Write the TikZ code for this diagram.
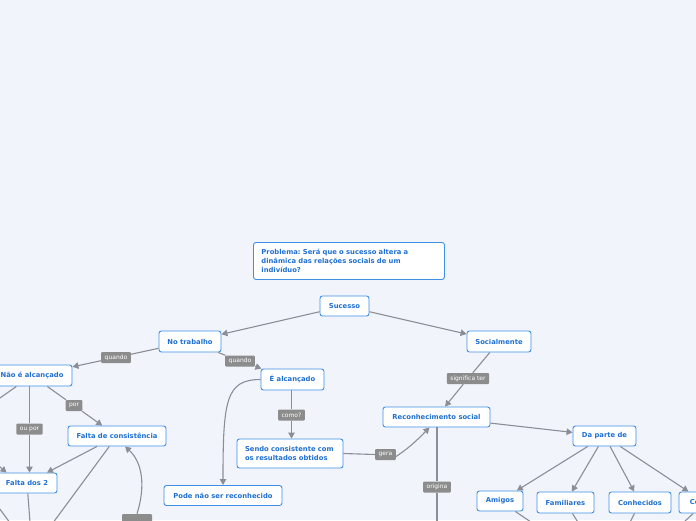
\documentclass[tikz,border=0pt]{standalone}
\usepackage{fontspec}
\usetikzlibrary{arrows.meta,calc}
\newfontfamily\dvs{DejaVu Sans}
\frenchspacing
\definecolor{bgc}{HTML}{F2F4FC}
\definecolor{nodeb}{HTML}{3F8FE6}
\definecolor{nodet}{HTML}{1F70D2}
\definecolor{labg}{HTML}{8C8C8C}
\definecolor{lineg}{HTML}{8B8E96}
\tikzset{
  concept/.style={draw=nodeb, fill=white, rounded corners=2.5pt, line width=0.9pt, text=nodet,
    font=\dvs\bfseries\fontsize{6.8}{9}\selectfont, inner sep=0pt, align=center},
  lab/.style={fill=labg, text=white, font=\dvs\fontsize{6}{7}\selectfont, inner xsep=3.5pt,
    inner ysep=0pt, minimum height=11pt, rounded corners=1pt},
  link/.style={draw=lineg, line width=1.1pt},
  conn/.style={link, -{Triangle[length=6pt,width=6.5pt]}},
}
\begin{document}
\begin{tikzpicture}[x=1pt,y=-1pt]
\useasboundingbox (0,0) rectangle (696,520);
\clip (0,0) rectangle (696,520);
\fill[bgc] (0,0) rectangle (696,520);

% nodes
\node[concept, anchor=north west, text width=175pt, align=left, inner xsep=8pt, minimum height=37pt] (prob) at (253,242)
  {\frenchspacing Problema: Será que o sucesso altera a\\dinâmica das relações sociais de um\\indivíduo?};
\node[concept, minimum width=49pt, minimum height=20pt] (suc) at (344.5,306) {Sucesso};
\node[concept, minimum width=62pt, minimum height=21pt] (notrab) at (190,341.5) {No trabalho};
\node[concept, minimum width=64pt, minimum height=21pt] (social) at (499,341.5) {Socialmente};
\node[concept, minimum width=80pt, minimum height=21pt] (naoalc) at (32,375.5) {Não é alcançado};
\node[concept, minimum width=63pt, minimum height=21pt] (ealc) at (292.5,379.5) {É alcançado};
\node[concept, text width=90pt, align=left, inner xsep=8pt, minimum height=29pt] (sendo) at (290,453.5)
  {Sendo consistente com\\os resultados obtidos};
\node[concept, minimum width=107pt, minimum height=20pt] (recon) at (436.5,417) {Reconhecimento social};
\node[concept, minimum width=63pt, minimum height=20pt] (daparte) at (604.5,436) {Da parte de};
\node[concept, minimum width=46pt, minimum height=20pt] (amigos) at (500,501) {Amigos};
\node[concept, minimum width=57pt, minimum height=21pt] (famil) at (565.5,502.5) {Familiares};
\node[concept, minimum width=62pt, minimum height=21pt] (conhec) at (640,502.5) {Conhecidos};
\node[concept, minimum width=52pt, minimum height=21pt] (coleg) at (705,502.5) {Colegas};
\node[concept, minimum width=98pt, minimum height=20pt] (faltacons) at (117,436) {Falta de consistência};
\node[concept, minimum width=60pt, minimum height=20pt] (falta2) at (27,483) {Falta dos 2};
\node[concept, minimum width=118pt, minimum height=20pt] (pode) at (223,495.5) {Pode não ser reconhecido};

% labels
\node[lab] (q1) at (116,357.5) {quando};
\node[lab] (q2) at (240,361) {quando};
\node[lab] (por) at (74,405.5) {por};
\node[lab] (oupor) at (29.5,429) {ou por};
\node[lab] (como) at (291.5,415) {como?};
\node[lab] (gera) at (385.5,454.5) {gera};
\node[lab] (sig) at (468,378.5) {significa ter};
\node[lab] (orig) at (437,487) {origina};
\node[lab, minimum width=30pt, minimum height=12pt] (lbot) at (137,520) {};

% off-frame coordinates
\coordinate (o1) at (-20,412);
\coordinate (o2) at (-20,450);
\coordinate (o3) at (31,535);
\coordinate (o4) at (44,535);
\coordinate (o5) at (-12,493);
\coordinate (o6) at (19,535);
\coordinate (o7) at (437,535);
\coordinate (o8) at (550,535);
\coordinate (o9) at (586,535);
\coordinate (o10) at (623.6,535);
\coordinate (o11) at (670,535);

% connectors
\draw[conn] (suc) -- (notrab);
\draw[conn] (suc) -- (social);
\draw[link] (notrab) -- (q1);
\draw[conn] (q1) -- (naoalc);
\draw[link] (notrab) -- (q2);
\draw[conn] (q2) -- (ealc);
\draw[link] (naoalc) -- (por);
\draw[conn] (por) -- (faltacons);
\draw[link] (naoalc.south -| oupor) -- (oupor);
\draw[conn] (oupor) -- (falta2.north -| oupor);
\draw[link] (naoalc) -- (o1);
\draw[conn] (o2) -- ([xshift=10pt]falta2.north west);
\draw[conn] (faltacons) -- (falta2);
\draw[link] (faltacons) -- (o4);
\draw[link] (falta2) -- (o3);
\draw[link] (o5) -- (o6);
\draw[conn] (lbot.north) .. controls (146,485) and (142,462) .. ([xshift=8pt]faltacons.south);
\draw[conn] (ealc.west) .. controls (226,379.5) and (223,400) .. (pode.north);
\draw[link] (ealc.south -| como) -- (como);
\draw[conn] (como) -- (sendo.north -| como);
\draw[link] (sendo.east) -- (gera.west);
\draw[conn] ([yshift=-2pt]gera.east) .. controls (412,446) and (421,436) .. ([xshift=-7pt]recon.south);
\draw[link] (social) -- (sig);
\draw[conn] (sig) -- (recon);
\draw[link] (recon.south -| orig) -- (orig);
\draw[link] (orig) -- (o7);
\draw[conn] (recon) -- (daparte);
\draw[conn] (daparte) -- (amigos);
\draw[conn] (daparte) -- (famil);
\draw[conn] (daparte) -- (conhec);
\draw[conn] (daparte) -- (coleg);
\draw[link] (amigos) -- (o8);
\draw[link] (famil) -- (o9);
\draw[link] (conhec) -- (o10);
\draw[link] (coleg) -- (o11);
\end{tikzpicture}
\end{document}
